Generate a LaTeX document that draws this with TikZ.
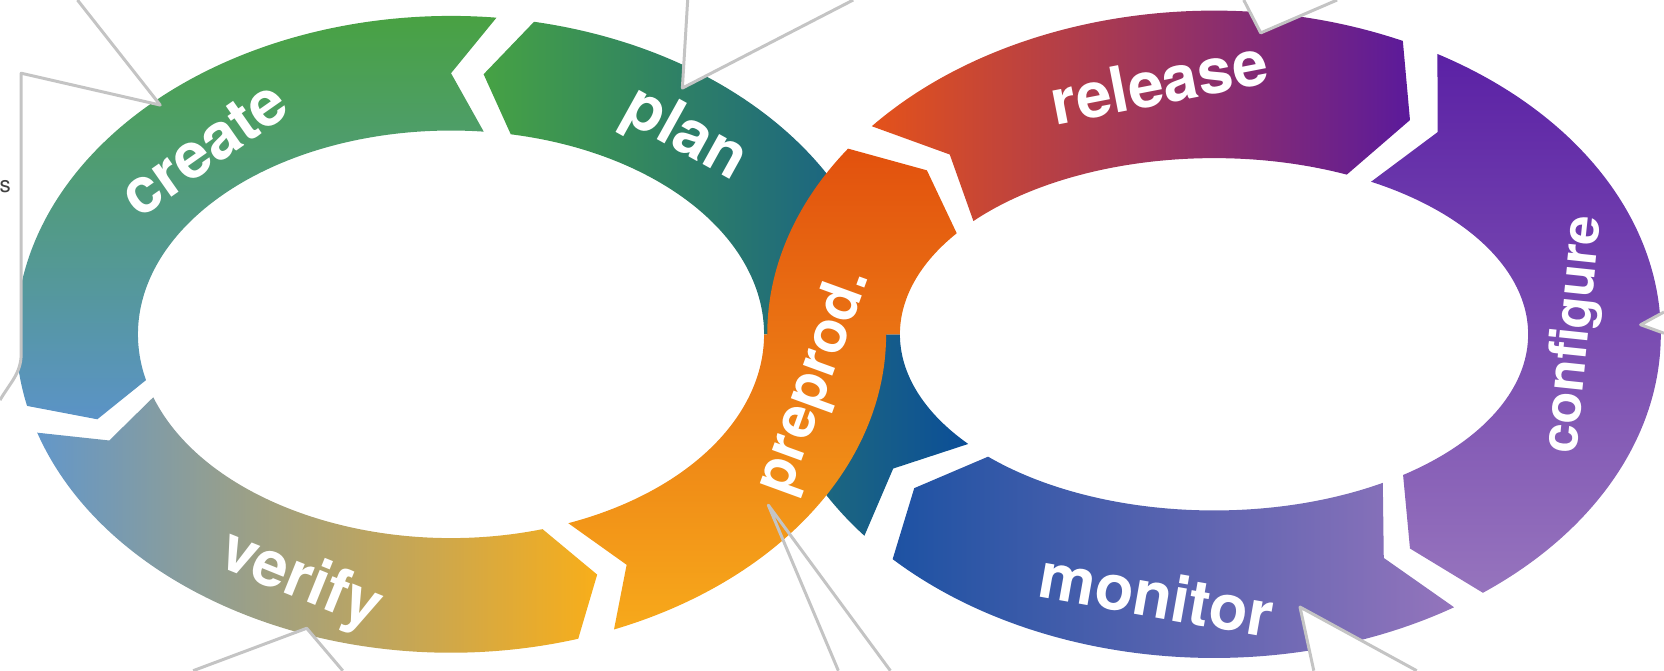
\documentclass[tikz,border=0pt]{standalone}
\usepackage{fontspec}
\setmainfont{TeX Gyre Heros}

\definecolor{cgreen}{HTML}{48A23F}
\definecolor{cblue}{HTML}{5B93C7}
\definecolor{pgreen}{HTML}{46A244}
\definecolor{pteal}{HTML}{1F7A70}
\definecolor{pblue}{HTML}{0B4E98}
\definecolor{vblue}{HTML}{6397C9}
\definecolor{vyellow}{HTML}{F8AE1A}
\definecolor{ppred}{HTML}{E2510E}
\definecolor{ppyellow}{HTML}{F7A91B}
\definecolor{rorange}{HTML}{E4521A}
\definecolor{rred}{HTML}{A8304F}
\definecolor{rpurple}{HTML}{5B1A9B}
\definecolor{cfdark}{HTML}{5B21A5}
\definecolor{cflight}{HTML}{9674BD}
\definecolor{mblue}{HTML}{1D52A3}
\definecolor{mmid}{HTML}{6A68B6}
\definecolor{mlight}{HTML}{9474BC}
\definecolor{callgrey}{HTML}{C4C4C4}
\definecolor{textgrey}{HTML}{404040}

\tikzset{
  lbl/.style={text=white, font=\fontsize{68}{68}\selectfont\bfseries, inner sep=0pt,
    scale=0.25, transform shape},
  callout/.style={draw=callgrey, line width=0.8pt, line join=round},
  createfill/.style={top color=cgreen, bottom color=cblue},
  planfill/.style={left color=pgreen, middle color=pteal, right color=pblue},
  verifyfill/.style={left color=vblue, right color=vyellow},
  preprodfill/.style={top color=ppred, bottom color=ppyellow},
  releasefill/.style={left color=rorange, middle color=rred, right color=rpurple},
  configurefill/.style={top color=cfdark, bottom color=cflight},
  monitorfill/.style={left color=mblue, middle color=mmid, right color=mlight}
}

% loop geometry: centre and inner / outer radii
\newcommand{\loopL}{\def\rcx{425}\def\rcy{317}\def\rai{295}\def\rbi{192}\def\rao{410}\def\rbo{300}}
\newcommand{\loopR}{\def\rcx{1144}\def\rcy{317}\def\rai{296}\def\rbi{166}\def\rao{421}\def\rbo{305}}

% one arrow piece of a ring: start angle, end angle, tip offset, style
\newcommand{\ringseg}[4]{%
  \path[#4] ({\rcx+\rao*cos(#1)},{\rcy+\rbo*sin(#1)})
    arc[start angle=#1, end angle=#2, x radius=\rao, y radius=\rbo]
    -- ({\rcx+(\rai+\rao)/2*cos(#2+#3)},{\rcy+(\rbi+\rbo)/2*sin(#2+#3)})
    -- ({\rcx+\rai*cos(#2)},{\rcy+\rbi*sin(#2)})
    arc[start angle=#2, end angle=#1, x radius=\rai, y radius=\rbi]
    -- ({\rcx+(\rai+\rao)/2*cos(#1+#3)},{\rcy+(\rbi+\rbo)/2*sin(#1+#3)})
    -- cycle;}

\begin{document}
\begin{tikzpicture}[x=0.01cm, y=0.01cm]

\useasboundingbox (0,0) rectangle (1568,632);

% plan runs from the right loop into the left loop
\path[planfill] ({1144+421*cos(218.5)},{317+305*sin(218.5)})
    arc[start angle=218.5, end angle=180, x radius=421, y radius=305]
    -- (720,317) arc[start angle=0, end angle=79, x radius=295, y radius=192]
    -- ({425+352.5*cos(85)},{317+246*sin(85)})
    -- ({425+410*cos(79)},{317+300*sin(79)})
    arc[start angle=79, end angle=0, x radius=410, y radius=300]
    -- (848,317) arc[start angle=180, end angle=218.5, x radius=296, y radius=166]
    -- ({1144+358.5*cos(212.5)},{317+235.5*sin(212.5)}) -- cycle;

\loopL
\ringseg{84}{193}{6}{createfill}
\ringseg{198}{287}{6}{verifyfill}

\loopR
\ringseg{140}{65}{-6}{releasefill}
\ringseg{60}{-53}{-6}{configurefill}
\ringseg{-57.5}{-136}{-6}{monitorfill}

% preprod crosses over plan
\path[preprodfill] ({425+410*cos(292)},{317+300*sin(292)})
    arc[start angle=292, end angle=360, x radius=410, y radius=300]
    -- (848,317) arc[start angle=180, end angle=145, x radius=296, y radius=166]
    -- ({1144+358.5*cos(139)},{317+235.5*sin(139)})
    -- ({1144+421*cos(145)},{317+305*sin(145)})
    arc[start angle=145, end angle=180, x radius=421, y radius=305]
    -- (720,317) arc[start angle=360, end angle=292, x radius=295, y radius=192]
    -- ({425+352.5*cos(298)},{317+246*sin(298)}) -- cycle;

% callouts cut off at the border
\coordinate (tipcreate) at (151,533);
\coordinate (tipplan) at (643,549);
\coordinate (tiprelease) at (1188,601);
\coordinate (tipconfigure) at (1546,326);
\coordinate (tipmonitor) at (1225,60);
\coordinate (tippreprod) at (724,156);
\coordinate (tipverify) at (289,40);

\fill[white] (73,632) -- (tipcreate) -- (20,563) -- (20,299) to[out=-90, in=60] (0,255) -- (0,632) -- cycle;
\draw[callout] (73,632) -- (tipcreate) -- (20,563) -- (20,299) to[out=-90, in=60] (0,255);
\node[anchor=west, inner sep=0pt, text=textgrey, font=\fontsize{6}{6}\selectfont] (boxtext) at (-1,456) {s};

\draw[callout, fill=white] (648,632) -- (tipplan) -- (804,632);
\draw[callout, fill=white] (1172,632) -- (tiprelease) -- (1260,632);
\draw[callout, fill=white] (1568,338) -- (tipconfigure) -- (1568,318);
\draw[callout, fill=white] (1238,0) -- (tipmonitor) -- (1335,0);
\draw[callout] (790,0) -- (tippreprod) -- (839,0);
\draw[callout, fill=white] (182,0) -- (tipverify) -- (323,0);

\node[lbl, rotate=35] (create) at (192,492) {create};
\node[lbl, rotate=-29] (plan) at (645,504) {plan};
\node[lbl, rotate=-22] (verify) at (283,84) {verify};
\node[lbl, rotate=70, font=\fontsize{62}{62}\selectfont\bfseries] (preprod) at (768,272) {preprod.};
\node[lbl, rotate=11] (release) at (1092,555) {release};
\node[lbl, rotate=84, font=\fontsize{56}{56}\selectfont\bfseries] (configure) at (1484,317) {configure};
\node[lbl, rotate=-10] (monitor) at (1090,72) {monitor};

\end{tikzpicture}
\end{document}
